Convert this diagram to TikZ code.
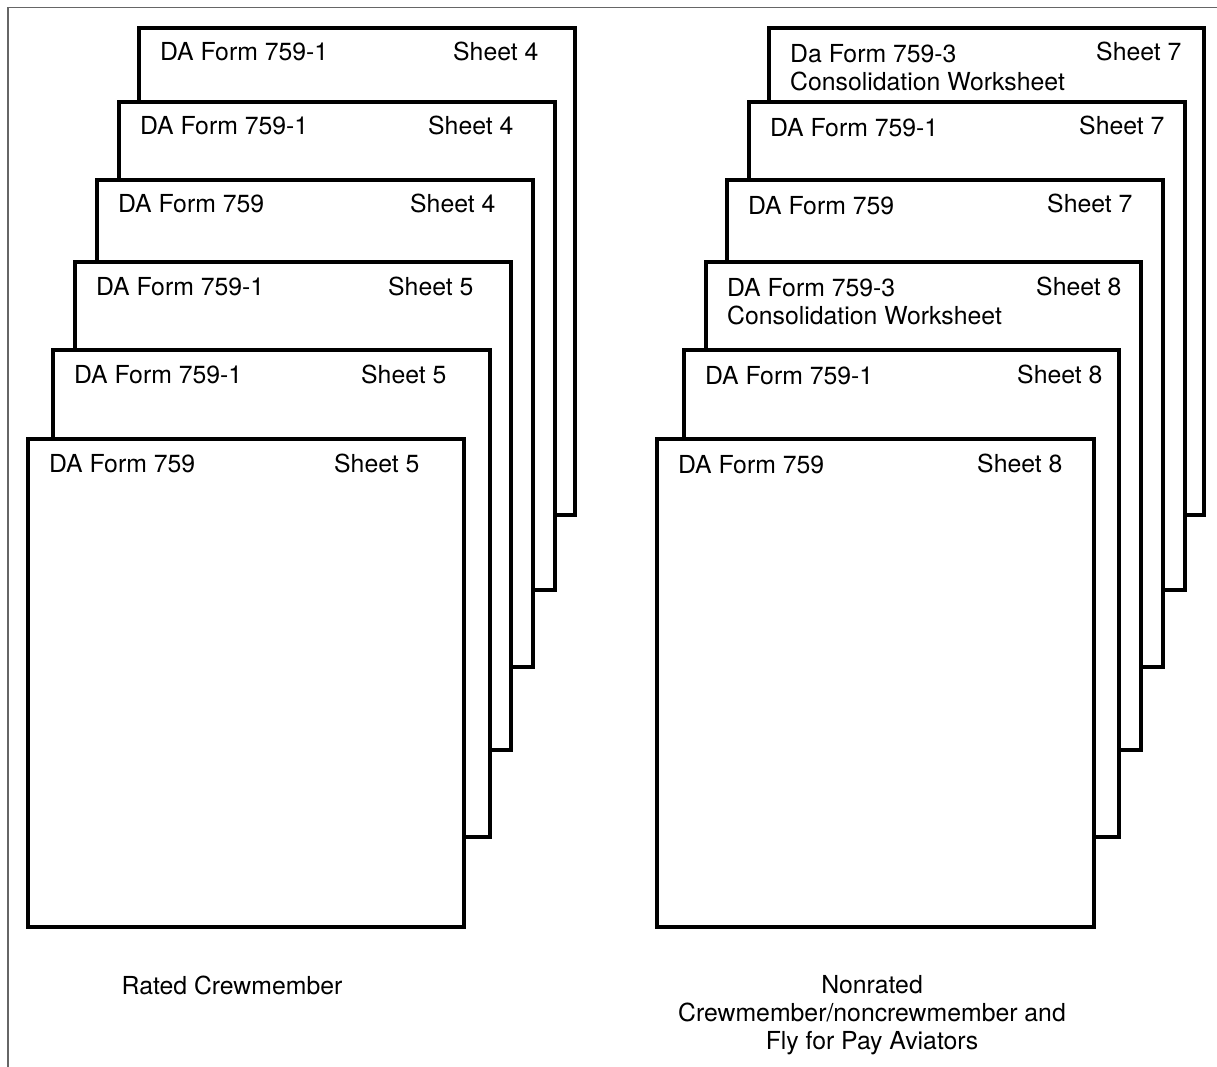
\documentclass[tikz,border=0pt]{standalone}
\usepackage{fontspec}
\setmainfont{TeX Gyre Heros}
\begin{document}
\begin{tikzpicture}[x=1pt,y=-1pt,
  sheetbox/.style={draw=black,fill=white,line width=3.6pt,line join=miter},
  formtxt/.style={anchor=base west,inner sep=0pt,font=\fontsize{24.8}{28}\selectfont},
  sheettxt/.style={anchor=base west,inner sep=0pt,font=\fontsize{24.8}{28}\selectfont},
  caption/.style={anchor=center,inner sep=0pt,align=center,font=\fontsize{24.8}{28}\selectfont}]
\useasboundingbox (0,0) rectangle (1217,1067);
\draw[gray!80!black,line width=1.4pt] (8,1067) -- (8,7.5) -- (1217,7.5);
% Left stack: left, top, right, bottom, form text, sheet x, sheet
\foreach \l/\t/\r/\b/\ft/\sx/\sh/\n in {
  139/28/575/515/{DA Form 759-1}/453/{Sheet 4}/1,
  119/102/555/590/{DA Form 759-1}/428/{Sheet 4}/2,
  97/180/533/667/{DA Form 759}/410/{Sheet 4}/3,
  75/262/511/750/{DA Form 759-1}/388/{Sheet 5}/4,
  53/350/490/837/{DA Form 759-1}/361/{Sheet 5}/5,
  28/439/464/927/{DA Form 759}/334/{Sheet 5}/6}{
  \draw[sheetbox] (\l,\t) rectangle (\r,\b);
  \node[formtxt] (lform\n) at (\l+21,\t+33) {\ft};
  \node[sheettxt] (lsheet\n) at (\sx,\t+33) {\sh};
}
% Right stack
\foreach \l/\t/\r/\b/\ft/\sx/\sh/\n in {
  769/28/1204/515/{Da Form 759-3\\Consolidation Worksheet}/1096/{Sheet 7}/1,
  749/102/1185/590/{DA Form 759-1}/1079/{Sheet 7}/2,
  727/180/1163/667/{DA Form 759}/1047/{Sheet 7}/3,
  706/262/1141/750/{DA Form 759-3\\Consolidation Worksheet}/1036/{Sheet 8}/4,
  684/350/1119/837/{DA Form 759-1}/1017/{Sheet 8}/5,
  657/439/1094/927/{DA Form 759}/977/{Sheet 8}/6}{
  \draw[sheetbox] (\l,\t) rectangle (\r,\b);
  \node[formtxt,align=left,anchor=north west] (rform\n) at (\l+21,\t+16) {\ft};
  \node[sheettxt] (rsheet\n) at (\sx,\t+33) {\sh};
}
\node[caption] (capL) at (232,985) {Rated Crewmember};
\node[caption,anchor=north] (capR) at (872,975) {Nonrated\\Crewmember/noncrewmember and\\Fly for Pay Aviators};
\end{tikzpicture}
\end{document}
